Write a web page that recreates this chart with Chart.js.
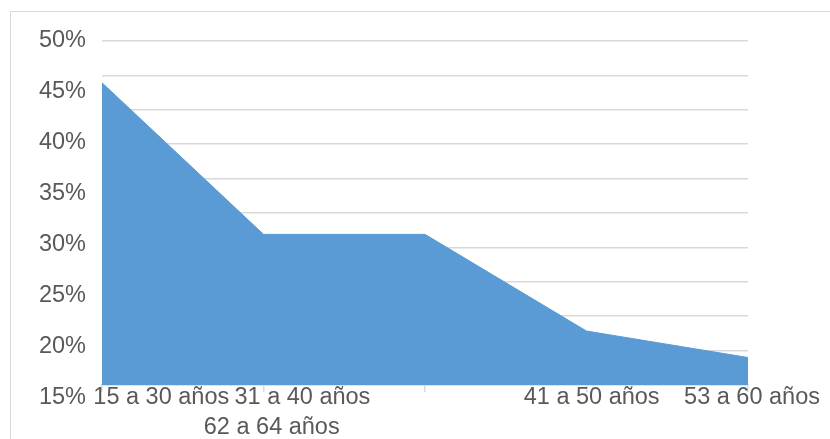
<!DOCTYPE html>
<html>
<head>
<meta charset="utf-8">
<script src="https://cdn.jsdelivr.net/npm/chart.js@4/dist/chart.umd.min.js"></script>
<style>
  html, body { margin: 0; padding: 0; background: #ffffff; }
  #wrap { position: relative; width: 830px; height: 439px; overflow: hidden; }
  #frame { position: absolute; left: 10px; top: 11px; width: 900px; height: 500px;
           border: 1.5px solid #d9d9d9; box-sizing: border-box; }
  canvas { position: absolute; left: 0; top: 0; }
</style>
</head>
<body>
<div id="wrap">
  <div id="frame"></div>
  <canvas id="chart" width="830" height="439"></canvas>
</div>
<script>
// Age groups and their share (%)
const categories = ['15 a 30 años', '31 a 40 años', '62 a 64 años', '41 a 50 años', '53 a 60 años'];
const shares = [45.9, 31.0, 31.0, 21.5, 18.9];

// Percentage tick labels on the value axis
const yTickValues = [50, 45, 40, 35, 30, 25, 20, 15];

// Where each category caption sits along the axis (in category units) and on which text row
const labelSlots = [0.367, 1.241, 1.051, 3.032, 4.025];
const labelRows = [0, 0, 1, 0, 0];

const FONT = { family: '"Liberation Sans", Arial, sans-serif', size: 23.5, lineHeight: 1.3 };
const TEXT = '#595959';
const RULE = '#d9d9d9';

new Chart(document.getElementById('chart'), {
  type: 'line',
  data: {
    labels: categories,
    datasets: [{
      data: shares,
      fill: 'start',
      backgroundColor: '#5b9bd5',
      borderColor: '#5b9bd5',
      borderWidth: 1,
      pointRadius: 0,
      tension: 0,
      xAxisID: 'x',
      yAxisID: 'y'
    }]
  },
  options: {
    responsive: false,
    animation: false,
    layout: { padding: { left: 10, right: 82, top: 41, bottom: 0 } },
    plugins: { legend: { display: false }, tooltip: { enabled: false } },
    scales: {
      x: {
        type: 'category',
        position: 'bottom',
        weight: 0,
        offset: false,
        ticks: { display: false },
        grid: { drawOnChartArea: false, drawTicks: true, tickLength: 7, tickColor: RULE, lineWidth: 1.5 },
        border: { display: true, color: RULE, width: 1.5 },
        afterFit: s => { s.height = 0; }
      },
      xl: {
        type: 'linear',
        position: 'bottom',
        weight: 1,
        min: 0,
        max: categories.length - 1,
        afterBuildTicks: s => { s.ticks = labelSlots.map(v => ({ value: v })); },
        ticks: {
          autoSkip: false,
          maxRotation: 0,
          minRotation: 0,
          padding: -3,
          color: TEXT,
          font: FONT,
          callback: (v, i) => labelRows[i] ? ['', categories[i]] : categories[i]
        },
        grid: { display: false, drawTicks: false },
        border: { display: false },
        afterFit: s => { s.height = 54; }
      },
      y: {
        type: 'linear',
        position: 'left',
        min: 16.2,
        max: 50,
        afterBuildTicks: s => { s.ticks = yTickValues.map(v => ({ value: v })); },
        ticks: {
          padding: 16,
          color: TEXT,
          font: FONT,
          callback: v => v + '%'
        },
        grid: { display: false, drawTicks: false },
        border: { display: false },
        afterFit: s => { s.width = 92; }
      },
      g: {
        type: 'linear',
        position: 'right',
        min: 0,
        max: 10,
        ticks: { display: false, stepSize: 1 },
        grid: { color: RULE, lineWidth: 1.5, drawTicks: false },
        border: { display: false }
      }
    }
  }
});
</script>
</body>
</html>
